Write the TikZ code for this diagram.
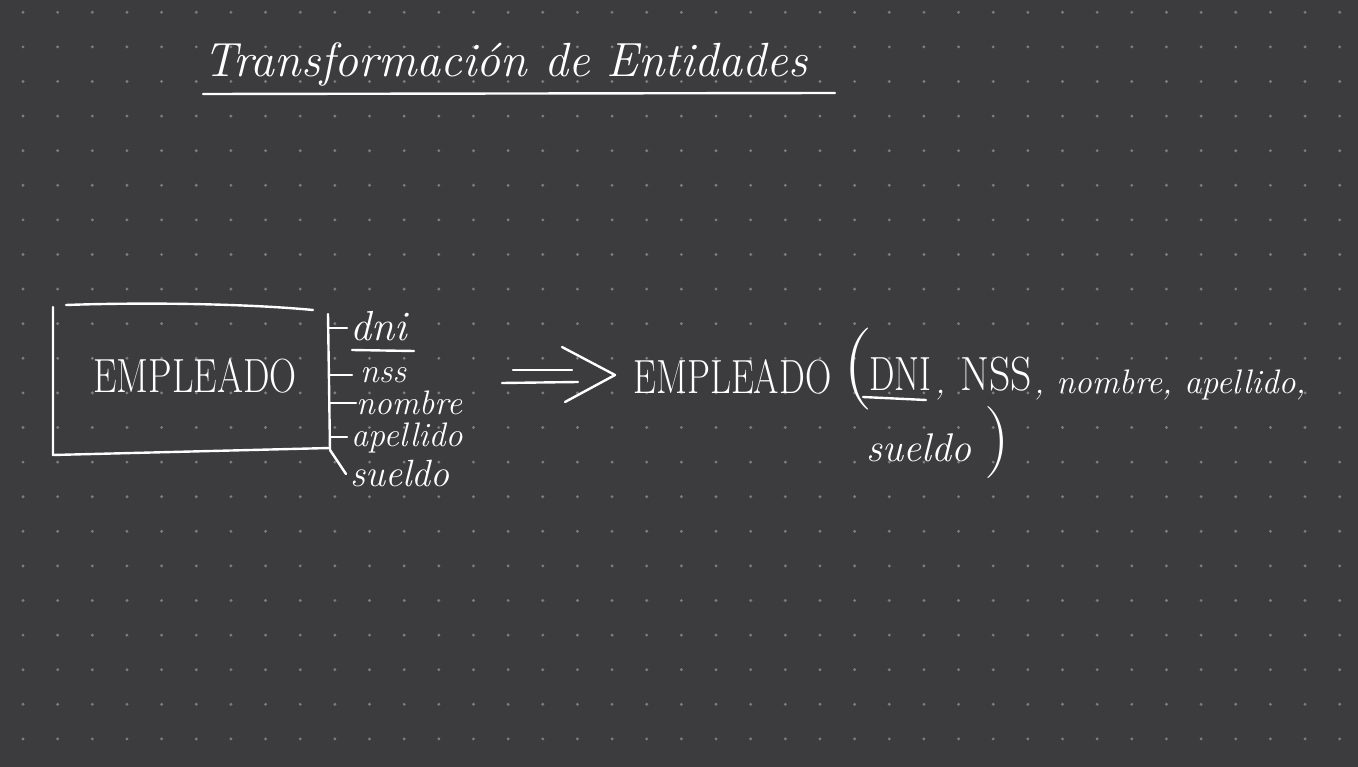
\documentclass[tikz,border=0pt]{standalone}
\usepackage{graphicx}
\definecolor{bgc}{RGB}{60,59,62}
\definecolor{dotc}{RGB}{125,125,128}
\begin{document}
\begin{tikzpicture}[x=1pt,y=-1pt,
  ink/.style={draw=white, line width=2.4pt, line cap=round, line join=round},
  hand/.style={text=white, inner sep=0pt, font=\fontsize{34}{36}\selectfont\itshape},
  caps/.style={text=white, inner sep=0pt, font=\fontsize{48}{50}\selectfont}]
\fill[bgc] (0,0) rectangle (1358,767);
\useasboundingbox (0,0) rectangle (1358,767);
\foreach \i in {0,...,38}{\foreach \j in {0,...,21}{\fill[dotc] ({23+34.65*\i},{12.3+34.6*\j}) circle (1.6);}}
% title
\node[hand, font=\fontsize{48}{50}\selectfont\itshape, anchor=base west] (title) at (203,77) {Transformación de Entidades};
\draw[ink] (203,94) -- (835,93);
% entity box
\node[caps, anchor=base] (ent) at (195,392) {\scalebox{0.78}[1]{EMPLEADO}};
\draw[ink] (53,307) -- (53,455) -- (330,448);
\draw[ink] (66,305) .. controls (150,302) and (250,304) .. (313,310);
\draw[ink] (328,314) -- (330,450);
% attributes
\node[hand, font=\fontsize{42}{44}\selectfont\itshape, anchor=base west] (dni) at (350,341) {dni};
\node[hand, anchor=base west] (nss) at (360,382) {nss};
\node[hand, anchor=base west] (nombre) at (356,414) {nombre};
\node[hand, anchor=base west] (apellido) at (351,446) {apellido};
\node[hand, font=\fontsize{38}{40}\selectfont\itshape, anchor=base west] (sueldo) at (350,486) {sueldo};
\draw[ink] (352,350) -- (414,351);
\coordinate (t1) at (329,328); \coordinate (t2) at (330,375);
\coordinate (t3) at (330,403); \coordinate (t4) at (330,437);
\coordinate (t5) at (330,450);
\draw[ink] (t1) -- ([xshift=-3pt]dni.west|-t1);
\draw[ink] (t2) -- ([xshift=-8pt]nss.west|-t2);
\draw[ink] (t3) -- (nombre.west|-t3);
\draw[ink] (t4) -- ([xshift=-4pt]apellido.west|-t4);
\draw[ink] (t5) -- (346,474);
% arrow
\coordinate (a1) at (513,370); \coordinate (a2) at (572,370);
\coordinate (b1) at (502,383); \coordinate (b2) at (578,382);
\coordinate (h1) at (562,347); \coordinate (hp) at (615,375); \coordinate (h2) at (565,402);
\draw[ink] (a1) -- (a2);
\draw[ink] (b1) -- (b2);
\draw[ink] (h1) -- (hp) -- (h2);
% relation
\node[caps, anchor=base west] (rel) at (633,393) {\scalebox{0.76}[1]{EMPLEADO}};
\node[text=white, inner sep=0pt, font=\fontsize{82}{82}\selectfont, anchor=base west] (lp) at (843,389) {(};
\node[caps, anchor=base west] (dniR) at (869,391) {\scalebox{0.75}[1]{DNI}};
\draw[ink] (863,397) -- (926,400);
\node[hand, anchor=base west] (c1) at (935,393) {,};
\node[caps, anchor=base west] (nssR) at (960,390) {\scalebox{0.87}[1]{NSS}};
\node[hand, anchor=base west] (rest) at (1034,394) {, nombre, apellido,};
\node[hand, font=\fontsize{40}{42}\selectfont\itshape, anchor=base west] (sueldoR) at (866,461) {sueldo};
\node[text=white, inner sep=0pt, font=\fontsize{72}{72}\selectfont, anchor=base west] (rp) at (984,460) {)};
\end{tikzpicture}
\end{document}
